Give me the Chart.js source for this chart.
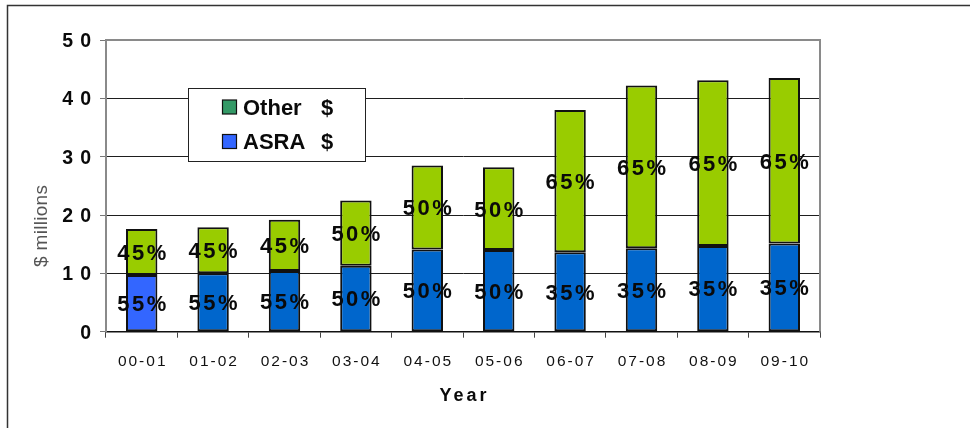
<!DOCTYPE html>
<html>
<head>
<meta charset="utf-8">
<script src="https://cdn.jsdelivr.net/npm/chart.js@4.4.1/dist/chart.umd.min.js"></script>
<style>
  html, body { margin: 0; padding: 0; background: #fff; overflow: hidden; }
  canvas { display: block; }
</style>
</head>
<body>
<canvas id="c" width="970" height="428"></canvas>
<script>
// Funding by school year, $ millions
const years = ['00-01', '01-02', '02-03', '03-04', '04-05', '05-06', '06-07', '07-08', '08-09', '09-10'];
const asraValues  = [9.7, 10.0, 10.4, 11.3, 14.1, 14.0, 13.6, 14.3, 14.7, 15.1];
const otherValues = [7.9, 7.9, 8.8, 11.2, 14.4, 14.2, 24.4, 27.9, 28.4, 28.4];
// Share of each year's total
const asraShares  = ['55%', '55%', '55%', '50%', '50%', '50%', '35%', '35%', '35%', '35%'];
const otherShares = ['45%', '45%', '45%', '50%', '50%', '50%', '65%', '65%', '65%', '65%'];
const yTicks = [0, 10, 20, 30, 40, 50];
const seriesNames = ['ASRA $', 'Other $'];
const xTitle = 'Year';
const yTitle = '$ millions';

const FONT = '"Liberation Sans", Arial, Helvetica, sans-serif';
const hasSpacing = 'letterSpacing' in CanvasRenderingContext2D.prototype;

// Draw text with extra tracking; align refers to the inked run of characters
function spacedText(ctx, text, x, y, spacing, align) {
  const chars = Array.from(text);
  if (hasSpacing) ctx.letterSpacing = '0px';
  const natural = ctx.measureText(text).width;
  const total = natural + spacing * (chars.length - 1);
  let start = x;
  if (align === 'center') start = x - total / 2;
  else if (align === 'right') start = x - total;
  ctx.textAlign = 'left';
  if (hasSpacing) {
    ctx.letterSpacing = spacing + 'px';
    ctx.fillText(text, start, y);
    ctx.letterSpacing = '0px';
  } else {
    let cx = start;
    for (const ch of chars) {
      ctx.fillText(ch, cx, y);
      cx += ctx.measureText(ch).width + spacing;
    }
  }
}

const decor = {
  id: 'decor',
  beforeDraw(chart) {
    const ctx = chart.ctx;
    ctx.save();
    ctx.fillStyle = '#fff';
    ctx.fillRect(0, 0, chart.width, chart.height);
    // outer frame (top and left edges)
    ctx.strokeStyle = '#333';
    ctx.lineWidth = 1.5;
    ctx.beginPath();
    ctx.moveTo(7.5, chart.height);
    ctx.lineTo(7.5, 5.5);
    ctx.lineTo(chart.width, 5.5);
    ctx.stroke();
    ctx.restore();
  },
  beforeDatasetsDraw(chart) {
    const ctx = chart.ctx, a = chart.chartArea;
    ctx.save();
    ctx.strokeStyle = '#8a8a8a';
    ctx.lineWidth = 2;
    ctx.beginPath();
    ctx.moveTo(a.left, a.top);
    ctx.lineTo(a.right, a.top);
    ctx.lineTo(a.right, a.bottom);
    ctx.stroke();
    ctx.restore();
  },
  afterDatasetsDraw(chart) {
    const ctx = chart.ctx;
    const shares = [asraShares, otherShares];
    ctx.save();
    ctx.fillStyle = '#0a0a0a';
    ctx.font = 'bold 22px ' + FONT;
    ctx.textBaseline = 'alphabetic';
    chart.data.datasets.forEach((ds, di) => {
      const meta = chart.getDatasetMeta(di);
      meta.data.forEach((bar, i) => {
        const p = bar.getProps(['x', 'y', 'base'], true);
        const cy = (p.y + p.base) / 2;
        spacedText(ctx, shares[di][i], p.x, cy + 0.36 * 22, 2.5, 'center');
      });
    });
    ctx.restore();
  },
  afterDraw(chart) {
    const ctx = chart.ctx, a = chart.chartArea;
    const xs = chart.scales.x, ys = chart.scales.y;
    ctx.save();
    ctx.textBaseline = 'alphabetic';

    // value axis labels
    ctx.fillStyle = '#0a0a0a';
    ctx.font = 'bold 19.5px ' + FONT;
    yTicks.forEach(v => {
      spacedText(ctx, String(v), 91, ys.getPixelForValue(v) + 0.36 * 19.5, 7, 'right');
    });

    // category labels
    ctx.fillStyle = '#111';
    ctx.font = '15.5px ' + FONT;
    chart.data.labels.forEach((lab, i) => {
      spacedText(ctx, lab, xs.getPixelForValue(i), 360.5 + 0.36 * 15.5, 2, 'center');
    });

    // axis titles
    ctx.fillStyle = '#0a0a0a';
    ctx.font = 'bold 18px ' + FONT;
    spacedText(ctx, xTitle, (a.left + a.right) / 2, 394.5 + 0.36 * 18, 3, 'center');

    ctx.save();
    ctx.translate(40.5, 226);
    ctx.rotate(-Math.PI / 2);
    ctx.fillStyle = '#555';
    ctx.font = '19px ' + FONT;
    spacedText(ctx, yTitle, 0, 0.36 * 19, 0.3, 'center');
    ctx.restore();

    // legend box
    ctx.fillStyle = '#fff';
    ctx.fillRect(188.5, 88.5, 177, 73);
    ctx.strokeStyle = '#222';
    ctx.lineWidth = 1;
    ctx.strokeRect(188.5, 88.5, 177, 73);
    const legendRows = [
      { ds: 1, cy: 107, swatch: '#339966' },
      { ds: 0, cy: 141.5, swatch: '#3366FF' }
    ];
    ctx.font = 'bold 22px ' + FONT;
    legendRows.forEach(r => {
      ctx.fillStyle = r.swatch;
      ctx.fillRect(222.5, r.cy - 7, 14, 14);
      ctx.strokeStyle = '#111';
      ctx.lineWidth = 1.2;
      ctx.strokeRect(222.5, r.cy - 7, 14, 14);
      const label = chart.data.datasets[r.ds].label;
      const cut = label.lastIndexOf(' ');
      ctx.fillStyle = '#0a0a0a';
      spacedText(ctx, label.slice(0, cut), 243, r.cy + 0.36 * 22, 0, 'left');
      spacedText(ctx, label.slice(cut + 1), 321, r.cy + 0.36 * 22, 0, 'left');
    });
    ctx.restore();
  }
};

new Chart(document.getElementById('c'), {
  type: 'bar',
  data: {
    labels: years,
    datasets: [
      {
        label: seriesNames[0],
        data: asraValues,
        backgroundColor: c => (c.dataIndex === 0 ? '#3366FF' : '#0066CC'),
        borderColor: '#111',
        borderWidth: 2,
        borderSkipped: false
      },
      {
        label: seriesNames[1],
        data: otherValues,
        backgroundColor: '#99CC00',
        borderColor: '#111',
        borderWidth: 2,
        borderSkipped: false
      }
    ]
  },
  options: {
    responsive: false,
    animation: false,
    devicePixelRatio: 1,
    barPercentage: 0.44,
    categoryPercentage: 1,
    layout: { padding: { left: 0, right: 150, top: 40, bottom: 0 } },
    plugins: { legend: { display: false }, tooltip: { enabled: false }, title: { display: false } },
    scales: {
      x: {
        stacked: true,
        offset: true,
        grid: { display: true, drawOnChartArea: false, offset: true, tickLength: 6, color: '#444', lineWidth: 1 },
        border: { display: true, color: '#111', width: 1.5 },
        ticks: { display: false },
        afterFit: s => { s.height = 96.3; }
      },
      y: {
        stacked: true,
        min: 0,
        max: 50,
        afterBuildTicks: s => { s.ticks = yTicks.map(v => ({ value: v })); },
        grid: { color: '#1e1e1e', lineWidth: 1, tickLength: 6, tickColor: '#777' },
        border: { display: true, color: '#8a8a8a', width: 2 },
        ticks: { display: false },
        afterFit: s => { s.width = 106; }
      }
    }
  },
  plugins: [decor]
});
</script>
</body>
</html>
